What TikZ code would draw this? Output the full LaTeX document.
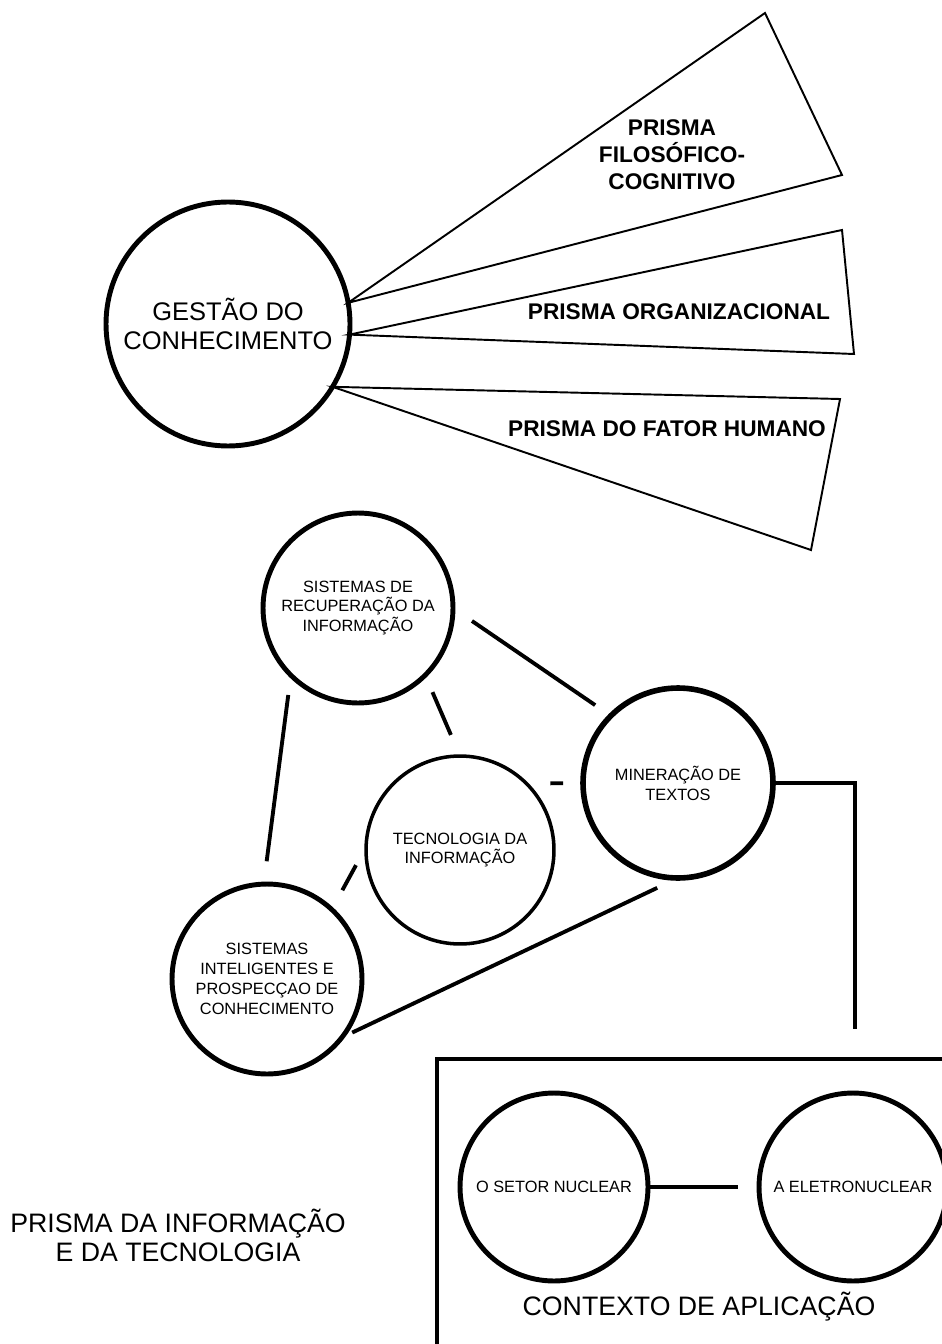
\documentclass[tikz,border=0pt]{standalone}
\usepackage{fontspec}
\setmainfont{Liberation Sans}

\tikzset{
  topic/.style={draw, circle, line width=2.8pt, minimum size=3.8cm, inner sep=0pt, outer sep=0pt, align=center, font=\fontsize{9.3}{11.3}\selectfont},
  link/.style={line width=2.2pt},
  prism/.style={line width=1.1pt},
  prismtext/.style={align=center, font=\bfseries\fontsize{12.9}{15.3}\selectfont},
  title/.style={align=center, font=\fontsize{15.2}{16.4}\selectfont},
}

\begin{document}
\begin{tikzpicture}[x=0.02cm,y=-0.02cm]%,line cap=round]
\clip (0,0) rectangle (942,1344);

% gestao do conhecimento e os tres prismas
\node [topic, minimum size=4.88cm, font=\fontsize{14.5}{17}\selectfont] (gc) at (228,324) {GESTÃO DO\\CONHECIMENTO};
\draw [prism] (gc.10) -- (765,13) -- (842,175) -- cycle;
\draw [prism] (gc.-5.6) -- (842,230) -- (854,354) -- cycle;
\draw [prism] (gc.-31) -- (840,399) -- (811,550) -- cycle;
\node [prismtext] (pfc) at (672,155) {PRISMA\\FILOSÓFICO-\\COGNITIVO};
\node [prismtext] (porg) at (679,312) {PRISMA ORGANIZACIONAL};
\node [prismtext] (pfh) at (667,429) {PRISMA DO FATOR HUMANO};

% prisma da informacao e da tecnologia
\node [topic] (sri) at (358,608) {SISTEMAS DE\\RECUPERAÇÃO DA\\INFORMAÇÃO};
\node [topic, line width=3.2pt] (min) at (678,783) {MINERAÇÃO DE\\TEXTOS};
\node [topic, line width=2pt, minimum size=3.76cm] (ti) at (460,850) {TECNOLOGIA DA\\INFORMAÇÃO};
\node [topic] (sipc) at (267,979) {SISTEMAS\\INTELIGENTES E\\PROSPECÇAO DE\\CONHECIMENTO};

\draw [link, shorten <=0.46cm, shorten >=0.38cm] (sri.0) -- (min.135);
\draw [link, shorten <=0.37cm, shorten >=0.46cm] (sri.-45) -- (ti.90);
\draw [link, shorten <=0.4cm, shorten >=0.46cm] (sri.-135) -- (sipc.92);
\draw [link, shorten <=0.48cm, shorten >=0.4cm] (ti.45) -- (min.180);
\draw [link, shorten <=0.42cm, shorten >=0.44cm] (ti.178) -- (sipc.47);
\draw [link, shorten <=0.46cm, shorten >=0.23cm] (min.-90) -- (sipc.-38);

\node [title] (pit) at (178,1235) {PRISMA DA INFORMAÇÃO\\E DA TECNOLOGIA};

% contexto de aplicacao
\coordinate (drop) at (855,1029);
\draw [link, line width=2.8pt] (min.0) -| (drop);
\draw [line width=1.9pt] (437,1059) rectangle (1000,1400);
\node [topic, minimum size=3.76cm] (setor) at (554,1187) {O SETOR NUCLEAR};
\node [topic, minimum size=3.76cm] (eletro) at (853,1187) {A ELETRONUCLEAR};
\draw [link, shorten >=0.42cm] (setor) -- (eletro);
\node [title] (ctx) at (699,1307) {CONTEXTO DE APLICAÇÃO};

\end{tikzpicture}
\end{document}
